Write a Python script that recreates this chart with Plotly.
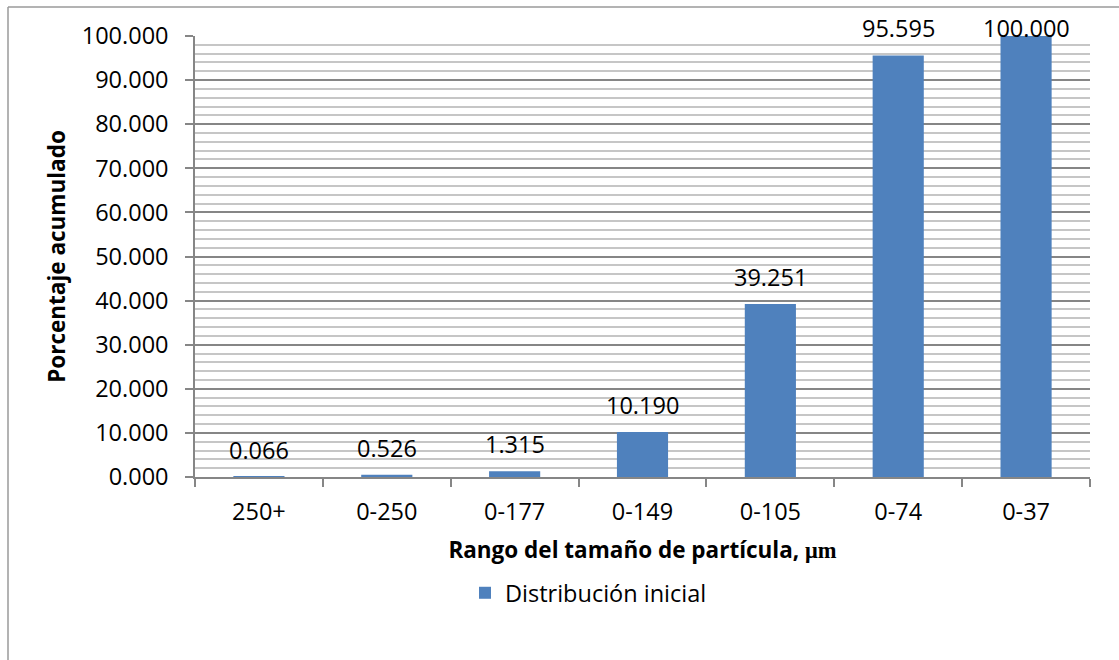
import plotly.graph_objects as go

# Particle size ranges and cumulative percentage
categories = ["250+", "0-250", "0-177", "0-149", "0-105", "0-74", "0-37"]
cumulative = [0.066, 0.526, 1.315, 10.190, 39.251, 95.595, 100.000]
series_name = "Distribución inicial"
y_ticks = [0, 10, 20, 30, 40, 50, 60, 70, 80, 90, 100]

W, H = 1119, 660
M_L, M_R, M_T, M_B = 195, 29, 36, 183
plot_h = H - M_T - M_B
plot_w = W - M_L - M_R

FONT = "'Open Sans', 'Noto Sans', sans-serif"
BAR = "#4f81bd"
MAJOR = "#868686"
MINOR = "#c6c6c6"
TXT = 23.5
TITLE = 22.5

fig = go.Figure()
fig.add_trace(go.Bar(
    x=categories,
    y=cumulative,
    name=series_name,
    marker=dict(color=BAR, line=dict(width=0)),
    width=0.4,
    showlegend=True,
))

# Value labels sit above each bar, kept inside the chart area
y_max = 100.0
annotations = []
for cat, val in zip(categories, cumulative):
    bar_top_px = M_T + (y_max - val) / y_max * plot_h
    centre_px = max(bar_top_px - 27, 28)
    annotations.append(dict(
        x=cat, y=val, xref="x", yref="y",
        text=f"{val:.3f}", showarrow=False,
        yanchor="middle", yshift=bar_top_px - centre_px,
        font=dict(family=FONT, size=TXT, color="#000000"),
    ))

# Chart-area frame (left and top edges)
px = lambda x: (x - M_L) / plot_w
py = lambda y: (H - M_B - y) / plot_h
shapes = [
    dict(type="line", xref="paper", yref="paper",
         x0=px(8), x1=px(8), y0=py(H + 5), y1=py(7),
         line=dict(color="#9a9a9a", width=1.5)),
    dict(type="line", xref="paper", yref="paper",
         x0=px(8), x1=px(W + 5), y0=py(7), y1=py(7),
         line=dict(color="#9a9a9a", width=1.5)),
]

fig.update_layout(
    width=W, height=H,
    margin=dict(l=M_L, r=M_R, t=M_T, b=M_B, autoexpand=False),
    paper_bgcolor="white", plot_bgcolor="white",
    font=dict(family=FONT, size=TXT, color="#000000"),
    bargap=0.6,
    annotations=annotations,
    shapes=shapes,
    legend=dict(
        orientation="h", x=px(465), y=py(593),
        xanchor="left", yanchor="middle",
        font=dict(family=FONT, size=TXT, color="#000000"),
        itemwidth=30, bgcolor="rgba(0,0,0,0)",
    ),
    xaxis=dict(
        type="category",
        tickson="boundaries",
        ticks="outside", ticklen=8, tickcolor=MAJOR, tickwidth=1.5,
        showline=True, linecolor=MAJOR, linewidth=1.5,
        showgrid=False, zeroline=False,
        ticklabelstandoff=13,
        tickfont=dict(family=FONT, size=TXT, color="#000000"),
        title=dict(
            text="<b>Rango del tamaño de partícula, "
                 "<span style=\"font-family:'Liberation Serif', serif\">μm</span></b>",
            font=dict(family=FONT, size=TITLE, color="#000000"),
            standoff=16,
        ),
        range=[-0.5, len(categories) - 0.5],
    ),
    yaxis=dict(
        range=[0, y_max],
        tickvals=y_ticks,
        tickformat=".3f",
        ticks="outside", ticklen=8, tickcolor=MAJOR, tickwidth=1.5,
        showline=True, linecolor=MAJOR, linewidth=1.5,
        showgrid=True, gridcolor=MAJOR, gridwidth=1.5,
        zeroline=False,
        minor=dict(dtick=2, showgrid=True, gridcolor=MINOR, gridwidth=1.5, ticks=""),
        ticklabelstandoff=12,
        tickfont=dict(family=FONT, size=TXT, color="#000000"),
        title=dict(
            text="<b>Porcentaje acumulado</b>",
            font=dict(family=FONT, size=TITLE, color="#000000"),
            standoff=10,
        ),
    ),
)

fig.write_html("out.html")
